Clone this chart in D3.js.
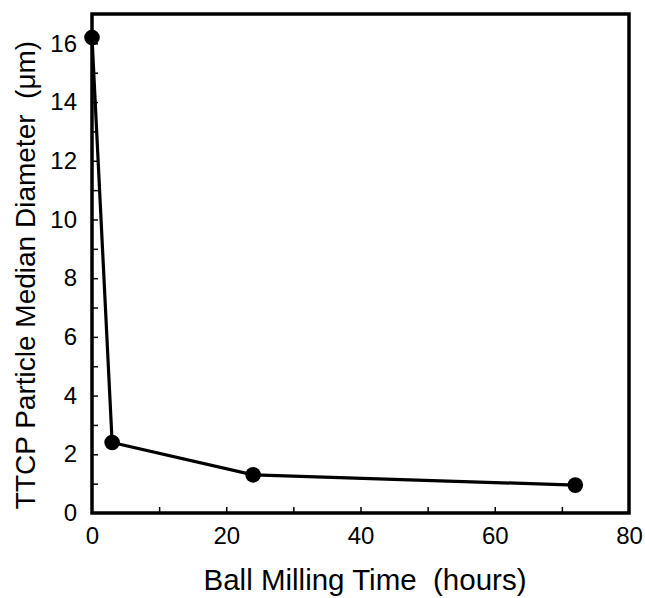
<!DOCTYPE html>
<html><head><meta charset="utf-8">
<script src="https://cdn.jsdelivr.net/npm/d3@7"></script>
<style>body{margin:0;background:#fff}</style></head>
<body><svg id="c" width="645" height="598"></svg>
<script>
const hours = [0, 3, 24, 72];
const diameter = [16.2, 2.4, 1.3, 0.95];
const xTickLabels = [0, 20, 40, 60, 80];
const yTickLabels = [0, 2, 4, 6, 8, 10, 12, 14, 16];

const svg = d3.select("#c");
const L = 92, R = 629, T = 14, B = 513;
const x = d3.scaleLinear().domain([0, 80]).range([L, R]);
const y = d3.scaleLinear().domain([0, 17]).range([B, T]);
const font = "Liberation Sans, Arial, sans-serif";

// minor/major inward ticks
const xAx = d3.axisTop(x).tickValues(d3.range(10, 80, 10)).tickSize(6).tickFormat("");
svg.append("g").attr("transform", `translate(0,${B})`).call(xAx)
  .call(g => g.select(".domain").remove())
  .selectAll("line").attr("stroke", "#000").attr("stroke-width", 1.5);
const yAx = d3.axisRight(y).tickValues(d3.range(1, 17, 1)).tickSize(6).tickFormat("");
svg.append("g").attr("transform", `translate(${L},0)`).call(yAx)
  .call(g => g.select(".domain").remove())
  .selectAll("line").attr("stroke", "#000").attr("stroke-width", 1.5);

// tick labels
const xl = d3.axisBottom(x).tickValues(xTickLabels).tickSize(0).tickPadding(14);
svg.append("g").attr("transform", `translate(0,${B})`).call(xl)
  .call(g => g.select(".domain").remove())
  .selectAll("text").attr("font-family", font).attr("font-size", 24).attr("fill", "#000");
const yl = d3.axisLeft(y).tickValues(yTickLabels).tickSize(0).tickPadding(15);
svg.append("g").attr("transform", `translate(${L},0)`).call(yl)
  .call(g => g.select(".domain").remove())
  .selectAll("text").attr("font-family", font).attr("font-size", 24).attr("fill", "#000");

// frame
svg.append("rect").attr("x", L).attr("y", T).attr("width", R - L).attr("height", B - T)
  .attr("fill", "none").attr("stroke", "#000").attr("stroke-width", 3.5);

// line and points
const pts = hours.map((h, i) => [h, diameter[i]]);
svg.append("path").datum(pts)
  .attr("d", d3.line().x(d => x(d[0])).y(d => y(d[1])))
  .attr("fill", "none").attr("stroke", "#000").attr("stroke-width", 3.2);
svg.selectAll("circle.p").data(pts).join("circle")
  .attr("cx", d => x(d[0])).attr("cy", d => y(d[1])).attr("r", 7.8).attr("fill", "#000");

// axis titles
svg.append("text").attr("x", 365).attr("y", 590).attr("text-anchor", "middle")
  .attr("font-family", font).attr("font-size", 29.5).text("Ball Milling Time\u00a0 (hours)");
svg.append("text").attr("transform", `translate(35,275) rotate(-90)`)
  .attr("text-anchor", "middle").attr("font-family", font).attr("font-size", 28)
  .text("TTCP Particle Median Diameter\u00a0 (\u03bcm)");
</script></body></html>
